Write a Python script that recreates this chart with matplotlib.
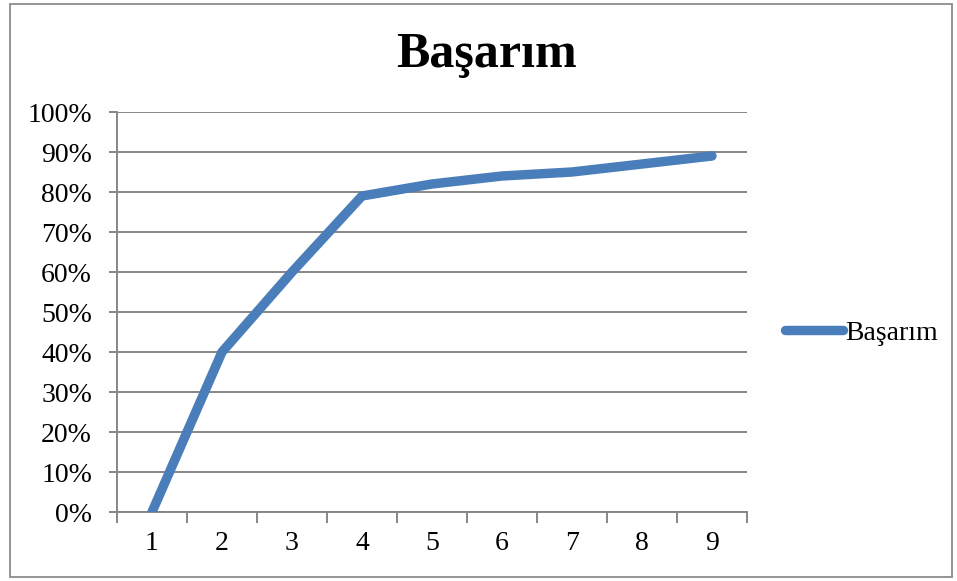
import matplotlib.pyplot as plt
from matplotlib.patches import Rectangle
from matplotlib.ticker import FixedLocator, PercentFormatter

# ── data ──
steps = [1, 2, 3, 4, 5, 6, 7, 8, 9]
basarim = [0, 40, 60, 79, 82, 84, 85, 87, 89]   # percent
y_ticks = list(range(0, 101, 10))

LINE_COL = "#4A7EBB"
GRID_COL = "#868686"
SERIF = ["Liberation Serif", "DejaVu Serif"]

plt.rcParams["font.family"] = SERIF

fig = plt.figure(figsize=(9.57, 5.81), dpi=100, facecolor="white")

# outer chart border (Excel style)
fig.patches.append(Rectangle((10 / 957, 4 / 581), 942 / 957, 573 / 581,
                             transform=fig.transFigure, fill=False,
                             edgecolor="#8c8c8c", linewidth=1.3))

ax = fig.add_axes([117 / 957, 69 / 581, 630 / 957, 400 / 581])
ax.plot(steps, basarim, color=LINE_COL, linewidth=6.8,
        solid_capstyle="round", solid_joinstyle="round",
        label="Başarım", zorder=3)

ax.set_xlim(0.5, 9.5)
ax.set_ylim(0, 100)

# y axis
ax.set_yticks(y_ticks)
ax.yaxis.set_major_formatter(PercentFormatter(decimals=0))
ax.grid(axis="y", color=GRID_COL, linewidth=1.4)
ax.set_axisbelow(True)

# x axis: labels centred, ticks on category boundaries
ax.set_xticks(steps)
ax.xaxis.set_minor_locator(FixedLocator([s + 0.5 for s in [0] + steps]))
ax.tick_params(axis="x", which="major", length=0, pad=14, labelsize=20)
ax.tick_params(axis="x", which="minor", length=8, width=1.4,
               color=GRID_COL)
ax.tick_params(axis="y", length=6, width=1.4, color=GRID_COL,
               pad=12, labelsize=20)

for side in ["top", "right"]:
    ax.spines[side].set_visible(False)
for side in ["left", "bottom"]:
    ax.spines[side].set_color(GRID_COL)
    ax.spines[side].set_linewidth(1.4)

fig.text(487 / 957, 1 - 55 / 581, "Başarım", ha="center", va="center",
         fontsize=36, fontweight="bold")

ax.legend(loc="center left", bbox_to_anchor=(785 / 957, 1 - 333 / 581),
          bbox_transform=fig.transFigure, frameon=False, fontsize=20,
          handlelength=2.1, handletextpad=0.05, borderpad=0,
          borderaxespad=0)

fig.savefig("out.png", dpi=100, facecolor=fig.get_facecolor())
